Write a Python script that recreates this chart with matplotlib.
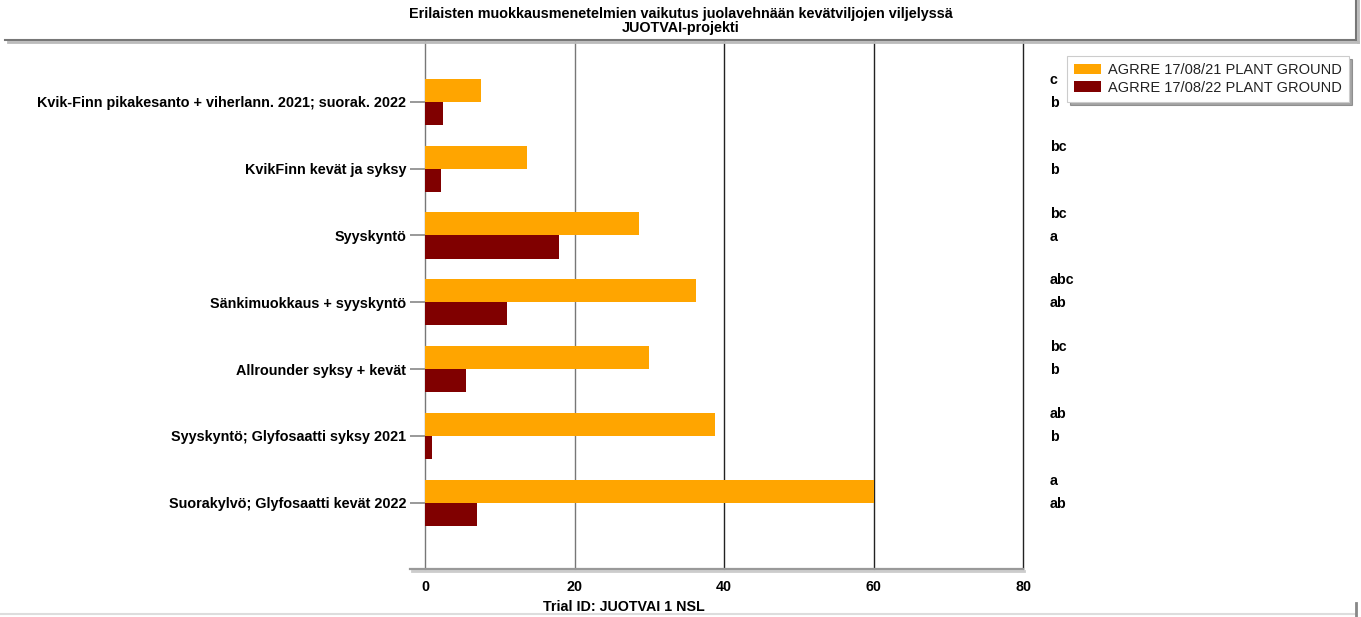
import matplotlib
matplotlib.use("Agg")
import matplotlib.pyplot as plt
from matplotlib.patches import Patch
from matplotlib.lines import Line2D

plt.rcParams['font.family'] = ['Liberation Sans', 'DejaVu Sans']

# ---- data ----
treatments = [
    "Kvik-Finn pikakesanto + viherlann. 2021; suorak. 2022",
    "KvikFinn kevät ja syksy",
    "Syyskyntö",
    "Sänkimuokkaus + syyskyntö",
    "Allrounder syksy + kevät",
    "Syyskyntö; Glyfosaatti syksy 2021",
    "Suorakylvö; Glyfosaatti kevät 2022",
]
series_names = ["AGRRE 17/08/21 PLANT GROUND", "AGRRE 17/08/22 PLANT GROUND"]
values_2021 = [7.5, 13.6, 28.6, 36.3, 30.0, 38.8, 60.0]
values_2022 = [2.4, 2.1, 17.9, 11.0, 5.5, 0.9, 7.0]
letters_2021 = ["c", "bc", "bc", "abc", "bc", "ab", "a"]
letters_2022 = ["b", "b", "a", "ab", "b", "b", "ab"]
x_ticks = [0, 20, 40, 60, 80]
title_lines = ["Erilaisten muokkausmenetelmien vaikutus juolavehnään kevätviljojen viljelyssä",
               "JUOTVAI-projekti"]
x_label = "Trial ID: JUOTVAI 1 NSL"

col_a = "#FFA500"
col_b = "#800000"

W, H = 1361, 617
fig = plt.figure(figsize=(W / 100, H / 100), dpi=100)


def fx(px):
    return px / W


def fy(py):
    return 1 - py / H


# plot area
left_px, right_px, top_px, bot_px = 425, 1023, 41, 569
ax = fig.add_axes([fx(left_px), fy(bot_px), fx(right_px - left_px), (bot_px - top_px) / H])

n = len(treatments)
pos = list(range(n))
bh = 0.345
ax.barh([p - bh / 2 for p in pos], values_2021, height=bh, color=col_a, zorder=3)
ax.barh([p + bh / 2 for p in pos], values_2022, height=bh, color=col_b, zorder=3)

ax.set_xlim(0, 80)
ax.set_ylim(6.99, -0.91)
ax.set_xticks(x_ticks)
ax.set_xticklabels([str(t) for t in x_ticks], fontweight='bold', fontsize=10.3)
ax.tick_params(axis='x', length=0, pad=8)
ax.set_yticks(pos)
ax.set_yticklabels(treatments, fontweight='bold', fontsize=10.4)
ax.tick_params(axis='y', length=11, color='#888888', width=1.2, pad=2.5)

for s in ax.spines.values():
    s.set_visible(False)

# vertical gridlines
for t in x_ticks:
    c = '#777777' if t in (0, 20) else '#222222'
    ax.axvline(t, color=c, lw=1.0, zorder=1, clip_on=False)

# bottom axis line with shadow
fig.add_artist(Line2D([fx(412), fx(1024)], [fy(bot_px + 2), fy(bot_px + 2)],
                      color='#cccccc', lw=2.0))
fig.add_artist(Line2D([fx(410), fx(1023)], [fy(bot_px), fy(bot_px)],
                      color='#999999', lw=1.6))

ax.text(624 / W, fy(607), x_label, transform=fig.transFigure, ha='center', va='center',
        fontweight='bold', fontsize=10.3)

# significance letters
for i in range(n):
    ax.text(1050 / W, fy(102 + 66.8 * i - 22), letters_2021[i], transform=fig.transFigure,
            ha='left', va='center', fontweight='bold', fontsize=10.3)
    ax.text(1050 / W, fy(102 + 66.8 * i + 1), letters_2022[i], transform=fig.transFigure,
            ha='left', va='center', fontweight='bold', fontsize=10.3)

# title box: bottom and right edges with a soft shadow
fig.add_artist(Line2D([fx(8), fx(1358)], [fy(41.5), fy(41.5)], color='#bbbbbb', lw=2.0))
fig.add_artist(Line2D([fx(1358), fx(1358)], [fy(0), fy(41.5)], color='#bbbbbb', lw=2.0))
fig.add_artist(Line2D([fx(5), fx(1356)], [fy(39.5), fy(39.5)], color='#777777', lw=1.5))
fig.add_artist(Line2D([fx(1356), fx(1356)], [fy(0), fy(39.5)], color='#777777', lw=1.5))
fig.text(0.5, fy(14), title_lines[0], ha='center', va='center', fontweight='bold', fontsize=10.4)
fig.text(0.5, fy(28), title_lines[1], ha='center', va='center', fontweight='bold', fontsize=10.4)

# legend
handles = [Patch(facecolor=col_a, edgecolor='none'), Patch(facecolor=col_b, edgecolor='none')]
leg = fig.legend(handles, series_names, loc='upper left',
                 bbox_to_anchor=(fx(1067), fy(56)), frameon=True, shadow=True, fancybox=False,
                 fontsize=10.5, handlelength=1.85, handleheight=0.7, handletextpad=0.45,
                 labelspacing=0.22, borderpad=0.5, borderaxespad=0)
leg.get_frame().set_edgecolor('#cccccc')
leg.get_frame().set_linewidth(0.8)
for t in leg.get_texts():
    t.set_color('#222222')

# outer frame at the foot
fig.add_artist(Line2D([fx(0), fx(1356)], [fy(614), fy(614)], color='#dddddd', lw=1.5))
fig.add_artist(Line2D([fx(1356), fx(1356)], [fy(603), fy(617)], color='#888888', lw=2.0))

fig.savefig("out.png", dpi=100)
